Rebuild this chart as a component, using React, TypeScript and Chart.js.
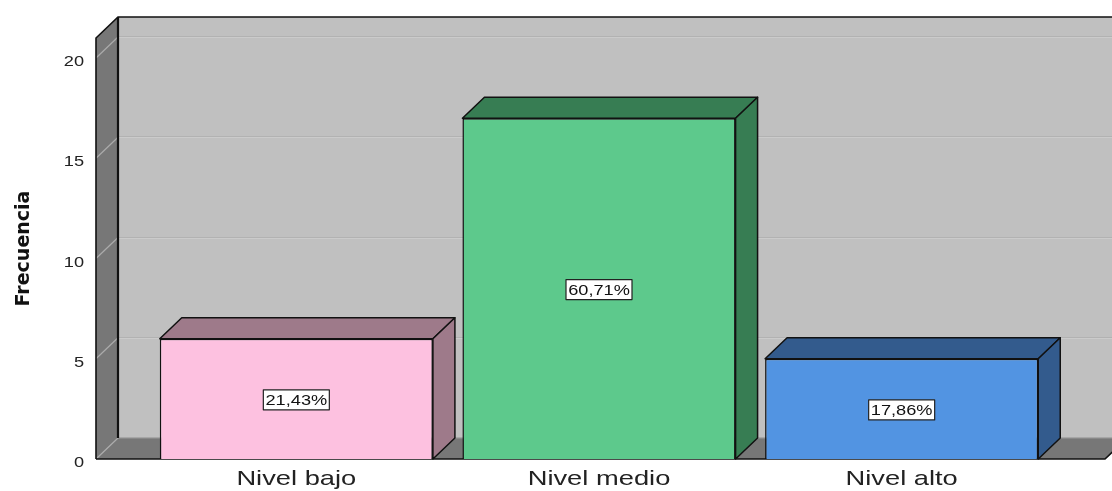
import React, { useEffect, useRef } from "react";
import { Chart, registerables } from "chart.js";

Chart.register(...registerables);

const categories = ["Nivel bajo", "Nivel medio", "Nivel alto"];
const frequencies = [6, 17, 5];
const frontColors = ["#fdc1e0", "#5dc98c", "#5294e2"];
const sideColors = ["#9e7a8a", "#377d53", "#335b8d"];
const yTickValues = [0, 5, 10, 15, 20];
const yTitle = "Frecuencia";

const DX = 22;
const DY = -21;
const SX = 1.3;

const total = frequencies.reduce((a, b) => a + b, 0);
const pctLabels = frequencies.map((v) => ((v / total) * 100).toFixed(2).replace(".", ",") + "%");

const threeD = {
  id: "threeD",
  beforeDatasetsDraw(chart: any) {
    const { ctx, chartArea, scales } = chart;
    const y = scales.y;
    const wl = chartArea.left - 49;
    const wr = chartArea.right + 52;
    const yTop = y.getPixelForValue(y.max);
    const y0 = y.getPixelForValue(0);
    ctx.save();
    // back wall
    ctx.fillStyle = "#c0c0c0";
    ctx.fillRect(wl + DX, yTop + DY, chart.width - (wl + DX) + 2, y0 - yTop);
    // gridlines on back wall
    yTickValues.forEach((v) => {
      const py = Math.round(y.getPixelForValue(v) + DY);
      ctx.fillStyle = "#b2b2b2";
      ctx.fillRect(wl + DX, py - 1, chart.width, 1);
      ctx.fillStyle = "#cbcbcb";
      ctx.fillRect(wl + DX, py, chart.width, 1);
    });
    // floor
    ctx.fillStyle = "#777777";
    ctx.beginPath();
    ctx.moveTo(wl, y0);
    ctx.lineTo(wl + DX, y0 + DY);
    ctx.lineTo(wr + DX, y0 + DY);
    ctx.lineTo(wr, y0);
    ctx.closePath();
    ctx.fill();
    // back edge of the floor
    ctx.strokeStyle = "#9a9a9a";
    ctx.lineWidth = 1;
    ctx.beginPath();
    ctx.moveTo(wl + DX, y0 + DY);
    ctx.lineTo(wr + DX, y0 + DY);
    ctx.stroke();
    // left wall
    ctx.fillStyle = "#777777";
    ctx.beginPath();
    ctx.moveTo(wl, yTop);
    ctx.lineTo(wl + DX, yTop + DY);
    ctx.lineTo(wl + DX, y0 + DY);
    ctx.lineTo(wl, y0);
    ctx.closePath();
    ctx.fill();
    // diagonal tick lines on the left wall
    ctx.strokeStyle = "#ababab";
    ctx.lineWidth = 1.2;
    yTickValues.forEach((v) => {
      const py = y.getPixelForValue(v);
      ctx.beginPath();
      ctx.moveTo(wl, py);
      ctx.lineTo(wl + DX, py + DY);
      ctx.stroke();
    });
    // outlines
    ctx.strokeStyle = "#111111";
    ctx.lineWidth = 1.6;
    ctx.beginPath();
    ctx.moveTo(wl, y0);
    ctx.lineTo(wl, yTop);
    ctx.lineTo(wl + DX, yTop + DY);
    ctx.lineTo(chart.width + 2, yTop + DY);
    ctx.stroke();
    ctx.lineWidth = 2.2;
    ctx.beginPath();
    ctx.moveTo(wl + DX, yTop + DY);
    ctx.lineTo(wl + DX, y0 + DY);
    ctx.stroke();
    ctx.lineWidth = 1.6;
    ctx.beginPath();
    ctx.moveTo(wl, y0);
    ctx.lineTo(wr, y0);
    ctx.lineTo(wr + DX, y0 + DY);
    ctx.stroke();
    ctx.restore();
  },
  afterDatasetsDraw(chart: any) {
    const { ctx } = chart;
    const meta = chart.getDatasetMeta(0);
    ctx.save();
    meta.data.forEach((bar: any, i: number) => {
      const { x, y, base, width } = bar.getProps(["x", "y", "base", "width"], true);
      const l = x - width / 2;
      const r = x + width / 2;
      ctx.fillStyle = sideColors[i];
      ctx.strokeStyle = "#111111";
      ctx.lineWidth = 1.5;
      ctx.lineJoin = "round";
      // top face
      ctx.beginPath();
      ctx.moveTo(l, y);
      ctx.lineTo(l + DX, y + DY);
      ctx.lineTo(r + DX, y + DY);
      ctx.lineTo(r, y);
      ctx.closePath();
      ctx.fill();
      ctx.stroke();
      // side face
      ctx.beginPath();
      ctx.moveTo(r, y);
      ctx.lineTo(r + DX, y + DY);
      ctx.lineTo(r + DX, base + DY);
      ctx.lineTo(r, base);
      ctx.closePath();
      ctx.fill();
      ctx.stroke();
      // percentage label
      const cy = (y + base) / 2 + 1;
      const bw = 66;
      const bh = 20;
      ctx.fillStyle = "#ffffff";
      ctx.fillRect(x - bw / 2, cy - bh / 2, bw, bh);
      ctx.strokeStyle = "#222222";
      ctx.lineWidth = 1.2;
      ctx.strokeRect(x - bw / 2, cy - bh / 2, bw, bh);
      ctx.save();
      ctx.translate(x, cy + 5);
      ctx.scale(SX, 1);
      ctx.fillStyle = "#111111";
      ctx.font = "14px 'Liberation Sans', Arial, sans-serif";
      ctx.textAlign = "center";
      ctx.textBaseline = "alphabetic";
      ctx.fillText(pctLabels[i], 0, 0);
      ctx.restore();
    });
    ctx.restore();
  },
  afterDraw(chart: any) {
    const { ctx, chartArea, scales } = chart;
    const y = scales.y;
    const xs = scales.x;
    ctx.save();
    // y tick labels
    ctx.fillStyle = "#222222";
    ctx.font = "14px 'Liberation Sans', Arial, sans-serif";
    ctx.textAlign = "right";
    ctx.textBaseline = "alphabetic";
    yTickValues.forEach((v) => {
      const py = y.getPixelForValue(v);
      ctx.save();
      ctx.translate(chartArea.left - 61, py + 8);
      ctx.scale(SX, 1);
      ctx.fillText(String(v), 0, 0);
      ctx.restore();
    });
    // x labels
    ctx.font = "21px 'Liberation Sans', Arial, sans-serif";
    ctx.textAlign = "center";
    chart.data.labels.forEach((lab: string, i: number) => {
      const px = xs.getPixelForValue(i);
      ctx.save();
      ctx.translate(px, chartArea.bottom + 26);
      ctx.scale(SX, 1);
      ctx.fillText(lab, 0, 0);
      ctx.restore();
    });
    // y title
    ctx.save();
    ctx.translate(24, (chartArea.top + chartArea.bottom) / 2);
    ctx.rotate(-Math.PI / 2);
    ctx.font = "bold 19px 'DejaVu Sans', sans-serif";
    ctx.fillStyle = "#111111";
    ctx.textAlign = "center";
    ctx.textBaseline = "middle";
    ctx.fillText(yTitle, 0, 0);
    ctx.restore();
    ctx.restore();
  },
};

export default function App() {
  const ref = useRef<HTMLCanvasElement | null>(null);
  useEffect(() => {
    if (!ref.current) return;
    const chart = new Chart(ref.current, {
      type: "bar",
      data: {
        labels: categories,
        datasets: [
          {
            data: frequencies,
            backgroundColor: frontColors,
            borderColor: "#111111",
            borderWidth: 1.5,
            categoryPercentage: 1,
            barPercentage: 0.9025,
          },
        ],
      },
      options: {
        responsive: false,
        animation: false,
        layout: { padding: { left: 145, right: 59, top: 38, bottom: 32 } },
        plugins: { legend: { display: false }, tooltip: { enabled: false } },
        scales: {
          x: { type: "category", display: false, offset: true },
          y: { type: "linear", display: false, min: 0, max: 21 },
        },
      },
      plugins: [threeD],
    });
    return () => chart.destroy();
  }, []);
  return (
    <div style={{ position: "fixed", left: 0, top: 0, width: 1112, height: 491, background: "#fff" }}>
      <canvas ref={ref} width={1112} height={491} style={{ display: "block" }} />
    </div>
  );
}
